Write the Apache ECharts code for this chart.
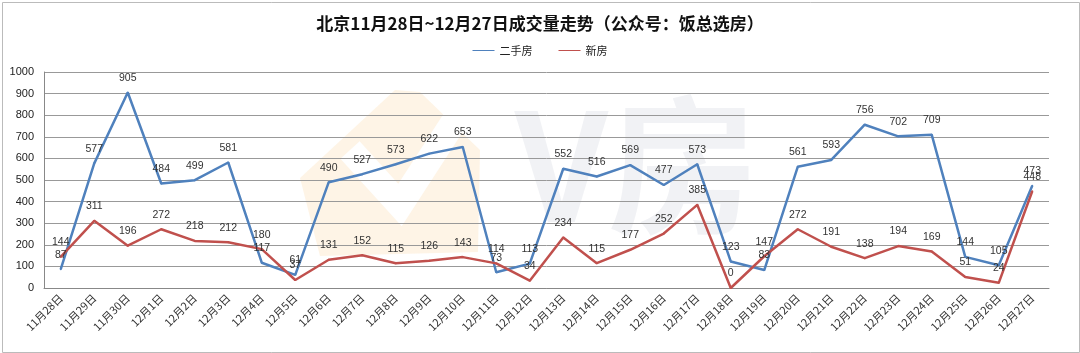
<!DOCTYPE html>
<html>
<head>
<meta charset="utf-8">
<script src="https://cdn.jsdelivr.net/npm/echarts@6/dist/echarts.min.js"></script>
<style>
  html, body { margin: 0; padding: 0; background: #fff; }
  #main { width: 1080px; height: 353px; }
</style>
</head>
<body>
<div id="main"></div>
<script>
var days = ['11月28日', '11月29日', '11月30日', '12月1日', '12月2日', '12月3日', '12月4日', '12月5日',
  '12月6日', '12月7日', '12月8日', '12月9日', '12月10日', '12月11日', '12月12日', '12月13日',
  '12月14日', '12月15日', '12月16日', '12月17日', '12月18日', '12月19日', '12月20日', '12月21日',
  '12月22日', '12月23日', '12月24日', '12月25日', '12月26日', '12月27日'];
var resale = [87, 577, 905, 484, 499, 581, 117, 61, 490, 527, 573, 622, 653, 73, 113,
  552, 516, 569, 477, 573, 123, 83, 561, 593, 756, 702, 709, 144, 105, 473];
var newHouse = [144, 311, 196, 272, 218, 212, 180, 37, 131, 152, 115, 126, 143, 114, 34,
  234, 115, 177, 252, 385, 0, 147, 272, 191, 138, 194, 169, 51, 24, 448];

var myChart = echarts.init(document.getElementById('main'));

var labelStyle = {
  show: true,
  position: 'top',
  distance: 8,
  color: '#333',
  fontSize: 10.5,
  fontFamily: 'Liberation Sans'
};

var option = {
  backgroundColor: '#fff',
  animation: false,
  title: {
    text: '北京11月28日~12月27日成交量走势（公众号：饭总选房）',
    left: 'center',
    top: 10,
    textStyle: {
      fontFamily: 'Noto Sans CJK SC',
      fontWeight: 'bold',
      fontSize: 17,
      color: '#111'
    }
  },
  // 边框 + 水印
  graphic: [
    {
      type: 'rect',
      left: 0, top: 0,
      shape: { x: 1, y: 1, width: 1077, height: 350 },
      style: { fill: 'none', stroke: '#bbb', lineWidth: 1 },
      silent: true, z: -10
    },
    {
      type: 'polygon',
      shape: { points: [[300, 178], [395, 90], [420, 92], [480, 150], [478, 252], [320, 256]] },
      style: { fill: 'rgba(250,205,140,0.22)' },
      silent: true, z: -5
    },
    {
      type: 'polyline',
      shape: { points: [[350, 150], [400, 205], [455, 120]] },
      style: { stroke: '#fff', lineWidth: 26, fill: 'none' },
      silent: true, z: -4
    },
    {
      type: 'text',
      left: 515, top: 90,
      style: { text: 'V房', fontSize: 150, fontWeight: 'bold', fontFamily: 'Noto Sans CJK SC', fill: 'rgba(170,175,190,0.16)' },
      silent: true, z: -5
    }
  ],
  legend: {
    top: 40,
    left: 'center',
    itemWidth: 22,
    itemHeight: 10,
    itemGap: 26,
    icon: 'path://M0,4.5 L22,4.5 L22,5.5 L0,5.5 Z',
    textStyle: { fontSize: 11, color: '#222', fontFamily: 'Noto Sans CJK SC' },
    data: ['二手房', '新房']
  },
  grid: {
    left: 44,
    right: 31,
    top: 72,
    bottom: 65
  },
  xAxis: {
    type: 'category',
    data: days,
    boundaryGap: true,
    axisTick: { show: false },
    axisLine: { lineStyle: { color: '#888' } },
    axisLabel: {
      interval: 0,
      rotate: 45,
      fontSize: 11,
      color: '#333',
      fontFamily: 'Noto Sans CJK SC',
      margin: 8
    }
  },
  yAxis: {
    type: 'value',
    min: 0,
    max: 1000,
    interval: 100,
    axisLine: { show: true, lineStyle: { color: '#888' } },
    axisTick: { show: false },
    axisLabel: {
      fontSize: 11, color: '#222', fontFamily: 'Liberation Sans', margin: 10,
      formatter: function (v) { return String(v); }
    },
    splitLine: { lineStyle: { color: '#999', width: 1 } }
  },
  series: [
    {
      name: '二手房',
      type: 'line',
      data: resale,
      color: '#4F81BD',
      symbol: 'circle',
      symbolSize: 2,
      showAllSymbol: true,
      lineStyle: { width: 2.5, color: '#4F81BD' },
      label: labelStyle
    },
    {
      name: '新房',
      type: 'line',
      data: newHouse,
      color: '#C0504D',
      symbol: 'circle',
      symbolSize: 2,
      showAllSymbol: true,
      lineStyle: { width: 2.5, color: '#C0504D' },
      label: labelStyle
    }
  ]
};

myChart.setOption(option);
</script>
</body>
</html>
